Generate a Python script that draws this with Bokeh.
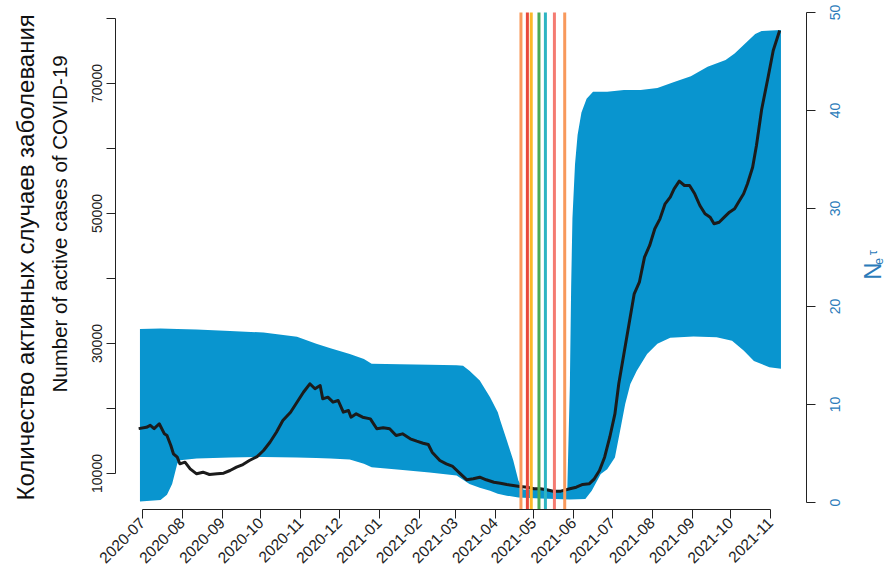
import math
import pandas as pd
from bokeh.plotting import figure
from bokeh.models import (Range1d, LinearAxis, FixedTicker, DatetimeTickFormatter,
                          Title, ColumnDataSource)
from bokeh.core.properties import value
from bokeh.embed import file_html
from bokeh.resources import INLINE

# ---------------- data ----------------
case_dates = [
    "2020-06-28", "2020-07-04", "2020-07-07", "2020-07-10", "2020-07-14", "2020-07-18",
    "2020-07-20", "2020-07-23", "2020-07-25", "2020-07-28", "2020-07-30", "2020-08-03",
    "2020-08-07", "2020-08-12", "2020-08-17", "2020-08-22", "2020-08-28", "2020-09-02",
    "2020-09-07", "2020-09-12", "2020-09-17", "2020-09-22", "2020-09-28", "2020-10-03",
    "2020-10-08", "2020-10-13", "2020-10-18", "2020-10-24", "2020-10-29", "2020-11-03",
    "2020-11-08", "2020-11-12", "2020-11-16", "2020-11-18", "2020-11-22", "2020-11-26",
    "2020-11-30", "2020-12-04", "2020-12-08", "2020-12-10", "2020-12-14", "2020-12-19",
    "2020-12-25", "2020-12-30", "2021-01-04", "2021-01-09", "2021-01-14", "2021-01-19",
    "2021-01-25", "2021-01-30", "2021-02-04", "2021-02-08", "2021-02-11", "2021-02-17",
    "2021-02-22", "2021-02-27", "2021-03-05", "2021-03-10", "2021-03-15", "2021-03-20",
    "2021-03-25", "2021-03-31", "2021-04-05", "2021-04-10", "2021-04-15", "2021-04-20",
    "2021-04-26", "2021-05-01", "2021-05-06", "2021-05-11", "2021-05-16", "2021-05-22",
    "2021-05-29", "2021-06-03", "2021-06-08", "2021-06-13", "2021-06-17", "2021-06-21",
    "2021-06-25", "2021-06-29", "2021-07-03", "2021-07-06", "2021-07-10", "2021-07-14",
    "2021-07-18", "2021-07-22", "2021-07-26", "2021-07-30", "2021-08-03", "2021-08-07",
    "2021-08-11", "2021-08-15", "2021-08-18", "2021-08-22", "2021-08-26", "2021-08-30",
    "2021-09-03", "2021-09-07", "2021-09-11", "2021-09-15", "2021-09-18", "2021-09-22",
    "2021-09-26", "2021-09-30", "2021-10-04", "2021-10-07", "2021-10-11", "2021-10-14",
    "2021-10-18", "2021-10-21", "2021-10-25", "2021-10-30", "2021-11-03", "2021-11-08",
]
case_values = [
    16900, 17100, 17400, 16900, 17650, 16100,
    15850, 14300, 13030, 12500, 11490, 11740,
    10720, 9950, 10200, 9850, 9950, 10050,
    10460, 10970, 11380, 12000, 12600, 13540,
    14800, 16350, 18150, 19430, 20970, 22500,
    23800, 23030, 23540, 21490, 21740, 20970,
    21230, 19430, 19690, 18660, 19180, 18660,
    18400, 16880, 17030, 16880, 15850, 16100,
    15340, 14970, 14660, 14460, 13280, 12000,
    11490, 11080, 9950, 9030, 9180, 9430,
    9030, 8660, 8510, 8310, 8150, 8000,
    7890, 7650, 7650, 7490, 7280, 7280,
    7650, 7890, 8310, 8410, 9180, 10460,
    12500, 15580, 19180, 23800, 28420, 33030,
    37650, 39430, 43280, 45080, 47650, 49180,
    51490, 52510, 53800, 54970, 54310, 54310,
    53030, 51230, 49950, 49430, 48420, 48660,
    49430, 50200, 50720, 51740, 53030, 54570,
    57120, 60500, 66000, 70970, 75080, 78150,
]

band_upper_dates = [
    "2020-06-29", "2020-07-15", "2020-07-28", "2020-08-12", "2020-09-07", "2020-10-03",
    "2020-10-29", "2020-11-13", "2020-11-24", "2020-12-09", "2020-12-20", "2020-12-26",
    "2021-01-17", "2021-02-09", "2021-03-02", "2021-03-07", "2021-03-12", "2021-03-20",
    "2021-03-28", "2021-04-03", "2021-04-05", "2021-04-10", "2021-04-15", "2021-04-19",
    "2021-04-23", "2021-05-06", "2021-05-19", "2021-05-27", "2021-05-29", "2021-05-30",
    "2021-05-31", "2021-06-02", "2021-06-04", "2021-06-07", "2021-06-11", "2021-06-16",
    "2021-06-27", "2021-07-10", "2021-07-23", "2021-08-05", "2021-08-18", "2021-08-31",
    "2021-09-13", "2021-09-27", "2021-10-04", "2021-10-12", "2021-10-20", "2021-10-25",
    "2021-11-09",
]
band_upper = [
    17.7, 17.75, 17.7, 17.65, 17.5, 17.35,
    16.9, 16.2, 15.75, 15.15, 14.65, 14.15,
    14.1, 14.05, 14.0, 13.95, 13.45, 12.45,
    10.75, 9.2, 8.35, 6.35, 4.3, 2.25,
    1.3, 1.35, 1.25, 1.3, 12.0, 22.0,
    29.0, 34.5, 37.5, 39.8, 41.2, 41.9,
    41.9, 42.1, 42.1, 42.3, 42.9, 43.5,
    44.45, 45.15, 45.8, 46.8, 47.8, 48.1,
    48.2,
]
band_lower_dates = [
    "2020-06-29", "2020-07-15", "2020-07-20", "2020-07-24", "2020-07-28", "2020-07-30",
    "2020-08-12", "2020-09-07", "2020-10-03", "2020-10-29", "2020-11-13", "2020-11-24",
    "2020-12-09", "2020-12-20", "2020-12-26", "2021-01-17", "2021-02-09", "2021-03-02",
    "2021-03-12", "2021-03-20", "2021-03-28", "2021-04-03", "2021-04-10", "2021-04-19",
    "2021-05-06", "2021-05-29", "2021-06-10", "2021-06-15", "2021-06-22", "2021-06-27",
    "2021-07-03", "2021-07-07", "2021-07-11", "2021-07-15", "2021-07-20", "2021-07-28",
    "2021-08-05", "2021-08-15", "2021-09-02", "2021-09-20", "2021-10-02", "2021-10-11",
    "2021-10-19", "2021-10-31", "2021-11-09",
]
band_lower = [
    0.1, 0.25, 0.8, 1.9, 3.95, 4.3,
    4.5, 4.6, 4.65, 4.6, 4.55, 4.5,
    4.4, 3.95, 3.6, 3.35, 3.05, 2.75,
    1.9, 1.5, 1.2, 0.9, 0.7, 0.5,
    0.4, 0.3, 0.35, 1.2, 2.9, 3.4,
    4.6, 7.3, 10.05, 12.1, 13.45, 15.15,
    16.2, 16.8, 16.95, 16.85, 16.5, 15.5,
    14.45, 13.8, 13.65,
]

event_dates = ["2021-04-21", "2021-04-26", "2021-04-29", "2021-05-05",
               "2021-05-10", "2021-05-17", "2021-05-25"]
event_colors = ["#F99B5E", "#E8483B", "#FBB829", "#4BA958",
                "#2EB4C2", "#F47B72", "#F8995C"]

month_ticks = ["2020-07-01", "2020-08-01", "2020-09-01", "2020-10-01", "2020-11-01",
               "2020-12-01", "2021-01-01", "2021-02-01", "2021-03-01", "2021-04-01",
               "2021-05-01", "2021-06-01", "2021-07-01", "2021-08-01", "2021-09-01",
               "2021-10-01", "2021-11-01"]
left_labelled_ticks = [10000, 30000, 50000, 70000]
left_other_ticks = [20000, 40000, 60000, 80000]
right_ticks = [0, 10, 20, 30, 40, 50]
right_labels = ["0", "10", "20", "30", "40", "50"]

# ---------------- layout constants ----------------
FONT = "Liberation Sans"
BLUE_TXT = "#2B7BBA"
AXIS_C = "#222222"
PANEL_BOTTOM, PANEL_TOP = 4460, 80923   # extent of the data panel (left-axis units)
RIGHT_AXIS_AT = "2021-11-29"            # where the right-hand axis line sits
RIGHT_LABEL_AT = "2021-12-21"           # centre line of its tick labels
TITLE_N = ("2022-01-19", 23.6)          # centre of the big N (right-axis units)
TITLE_SUB = ("2022-01-24", 24.6)        # centre of subscript e
TITLE_SUP = ("2022-01-19", 25.5)        # centre of superscript tau


def ms(d):
    return pd.Timestamp(d).value / 1e6


p = figure(width=886, height=574, output_backend="svg", toolbar_location=None,
           x_axis_type="datetime",
           x_range=Range1d(ms("2020-06-10"), ms("2022-01-30")),
           y_range=Range1d(4460, 82769),
           min_border_left=115, min_border_right=0, min_border_top=0,
           min_border_bottom=65)
p.outline_line_color = None
p.grid.visible = False
p.background_fill_color = "white"
p.extra_y_ranges = {"right": Range1d(-0.714, 51.22)}

# band (right axis units)
band_x = list(pd.to_datetime(band_upper_dates)) + list(pd.to_datetime(band_lower_dates))[::-1]
band_y = band_upper + band_lower[::-1]
p.patch(band_x, band_y, y_range_name="right", fill_color="#0995CF", line_color=None)

# active cases line
p.line(pd.to_datetime(case_dates), case_values, line_width=3, line_color="#1B1B1B",
       line_join="round")

# event lines across the data panel
ev_x = pd.to_datetime(event_dates)
ev = ColumnDataSource(dict(x=ev_x, y0=[PANEL_BOTTOM] * len(ev_x),
                           y1=[PANEL_TOP] * len(ev_x), c=event_colors))
p.segment(x0="x", y0="y0", x1="x", y1="y1", line_color="c", line_width=3, source=ev)

# x axis
xa = p.xaxis[0]
xa.ticker = FixedTicker(ticks=[ms(d) for d in month_ticks])
xa.formatter = DatetimeTickFormatter(days="%Y-%m", months="%Y-%m", years="%Y-%m",
                                     hours="%Y-%m", minutes="%Y-%m")
xa.bounds = (ms(month_ticks[0]), ms(month_ticks[-1]))
xa.major_label_orientation = math.pi / 4
xa.major_label_text_font = FONT
xa.major_label_text_font_size = "15.5px"
xa.major_label_text_color = "#222222"
xa.major_tick_out = 9
xa.major_tick_in = 0
xa.minor_tick_out = 0
xa.minor_tick_in = 0
xa.axis_line_color = AXIS_C
xa.major_tick_line_color = AXIS_C
xa.major_label_standoff = 2

# left axis (every 10000 ticked, every other one labelled)
ya = p.yaxis[0]
ya.ticker = FixedTicker(ticks=left_labelled_ticks, minor_ticks=left_other_ticks)
ya.bounds = (left_labelled_ticks[0], left_other_ticks[-1])
ya.major_label_orientation = "vertical"
ya.major_label_text_font = FONT
ya.major_label_text_font_size = "14px"
ya.major_label_text_color = "#222222"
ya.major_tick_out = 9
ya.major_tick_in = 0
ya.minor_tick_out = 9
ya.minor_tick_in = 0
ya.major_label_standoff = 4
ya.axis_line_color = AXIS_C
ya.major_tick_line_color = AXIS_C
ya.minor_tick_line_color = AXIS_C

# right axis: line + ticks at a fixed place, labels drawn as rotated text
ra = LinearAxis(y_range_name="right", ticker=FixedTicker(ticks=[], minor_ticks=right_ticks),
                bounds=(right_ticks[0], right_ticks[-1]),
                fixed_location=ms(RIGHT_AXIS_AT))
ra.major_tick_out = 0
ra.major_tick_in = 0
ra.minor_tick_out = 9
ra.minor_tick_in = 0
ra.axis_line_color = AXIS_C
ra.minor_tick_line_color = AXIS_C
p.add_layout(ra, "right")

p.text(x=[pd.Timestamp(RIGHT_LABEL_AT)] * len(right_ticks), y=right_ticks,
       text=right_labels, y_range_name="right", angle=math.pi / 2,
       text_align="center", text_baseline="middle", text_font=value(FONT),
       text_font_size=value("14px"), text_color=BLUE_TXT)

# right axis title N_e^tau
for txt, (xd, yv), fs in [("N", TITLE_N, "24px"), ("e", TITLE_SUB, "12px"),
                          ("τ", TITLE_SUP, "13px")]:
    p.text(x=[pd.Timestamp(xd)], y=[yv], text=[txt], y_range_name="right",
           angle=math.pi / 2, text_align="center", text_baseline="middle",
           text_font=value(FONT), text_font_size=value(fs), text_color=BLUE_TXT)

# left titles
t1 = Title(text="Number of active cases of COVID-19", align="left", offset=117,
           text_font=FONT, text_font_size="20.5px", text_font_style="normal",
           text_color="#111111", standoff=37)
t2 = Title(text="Количество активных случаев заболевания", align="left", offset=9,
           text_font=FONT, text_font_size="24px", text_font_style="normal",
           text_color="#111111", standoff=-22)
p.add_layout(t1, "left")
p.add_layout(t2, "left")

open("out.html", "w").write(file_html(p, INLINE))
